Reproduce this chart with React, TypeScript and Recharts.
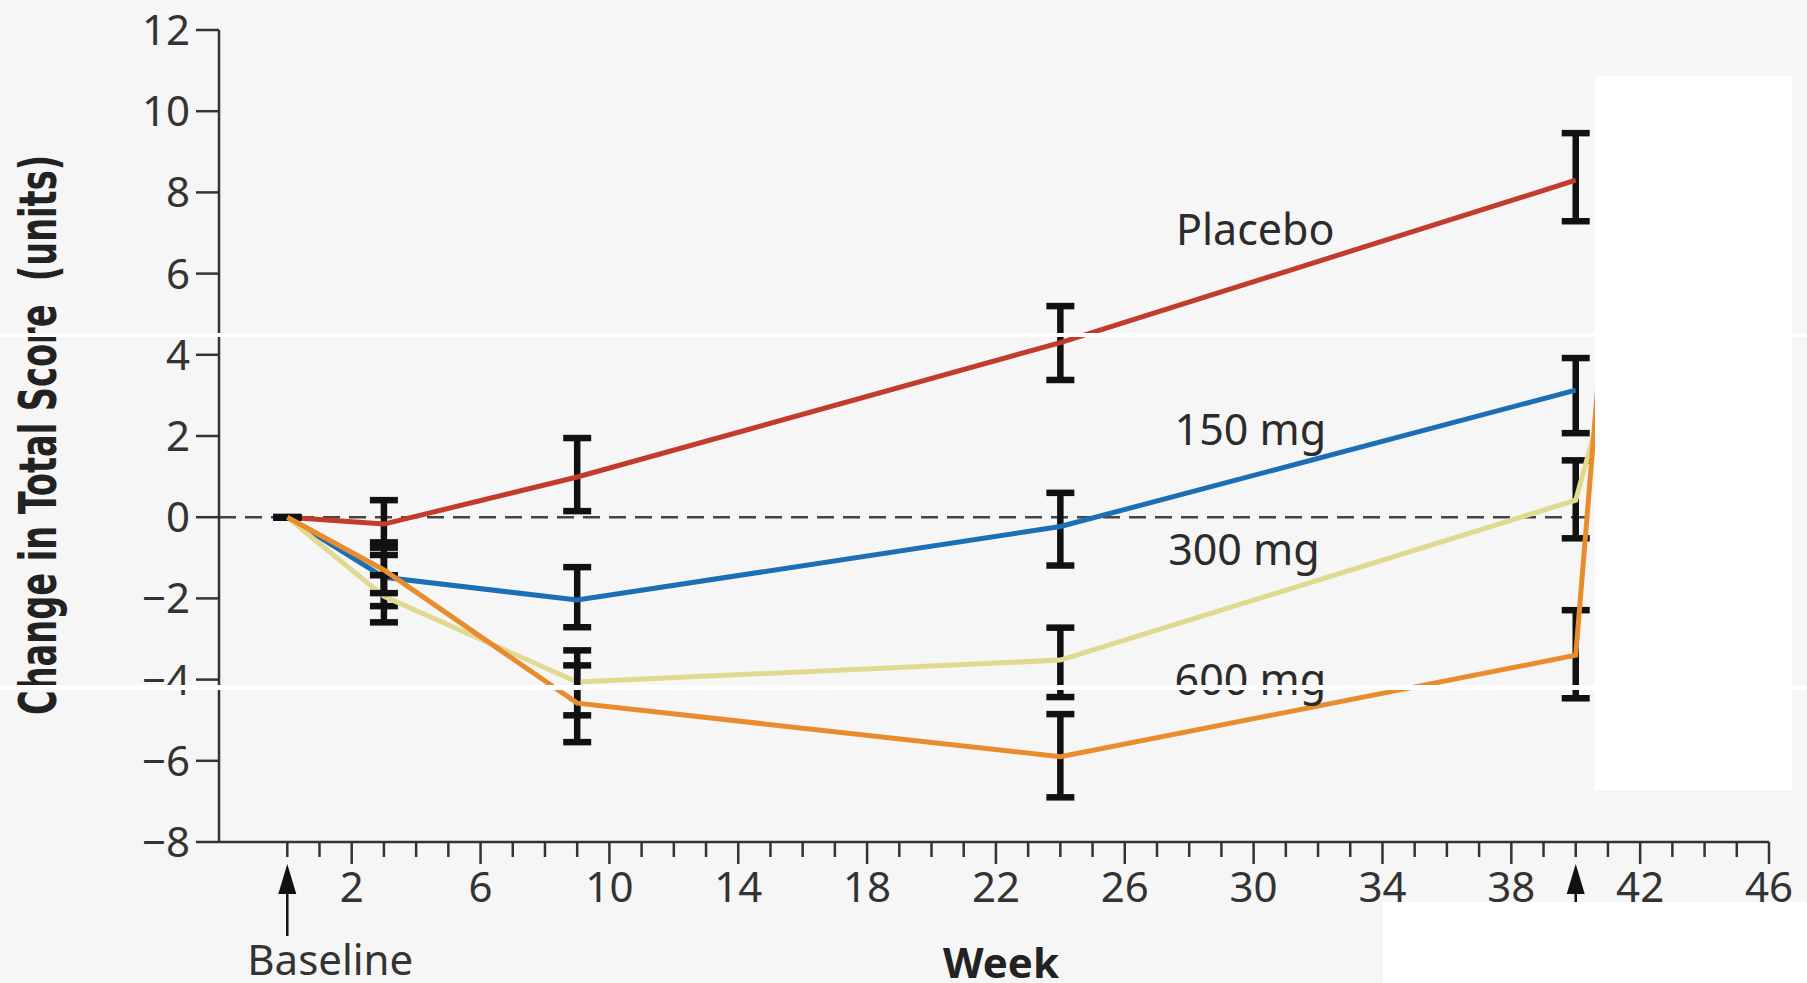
import React from 'react';
import { LineChart, Line, XAxis, YAxis, ErrorBar, ReferenceLine, ReferenceDot } from 'recharts';

// study visits (weeks) and mean change in total score per arm
const weeks = [0, 3, 9, 24, 40];

const placebo = [0, -0.17, 0.99, 4.3, 8.3];
const placeboLow = [0, -0.75, 0.15, 3.38, 7.29];
const placeboHigh = [0, 0.42, 1.95, 5.2, 9.46];

const dose150 = [0, -1.48, -2.04, -0.23, 3.13];
const dose150Low = [0, -2.19, -2.71, -1.19, 2.07];
const dose150High = [0, -0.93, -1.23, 0.6, 3.92];

const dose300 = [0, -1.95, -4.06, -3.52, 0.42];
const dose300Low = [0, -2.59, -4.88, -4.43, -0.52];
const dose300High = [0, -1.43, -3.28, -2.72, 1.4];

const dose600 = [0, -1.3, -4.58, -5.9, -3.4];
const dose600Low = [0, -1.87, -5.54, -6.9, -4.46];
const dose600High = [0, -0.62, -3.65, -4.85, -2.29];

// the 300 mg and 600 mg lines keep rising into the blanked panel on the right
const tailWeek = 41;
const dose300Tail = 3.3;
const dose600Tail = 6.3;

const weekTicks = Array.from({ length: 47 }, (_, i) => i);
const weekLabels = [2, 6, 10, 14, 18, 22, 26, 30, 34, 38, 42, 46];
const arrowWeeks = [0, 40];
const scoreTicks = [-8, -6, -4, -2, 0, 2, 4, 6, 8, 10, 12];

const FONT = "'Noto Sans', 'DejaVu Sans', sans-serif";
const BOLD_FONT = "'Liberation Sans Narrow', 'DejaVu Sans Condensed', 'Noto Sans', sans-serif";
const INK = '#333';

function toPoints(values: number[], low: number[], high: number[], tail?: number) {
  const pts: any[] = weeks.map((w, i) => ({
    week: w,
    value: values[i],
    err: [values[i] - low[i], high[i] - values[i]],
  }));
  if (tail !== undefined) pts.push({ week: tailWeek, value: tail });
  return pts;
}

const series = [
  { name: 'Placebo', color: '#c23b2c', data: toPoints(placebo, placeboLow, placeboHigh), at: [30.05, 7.07] },
  { name: '150 mg', color: '#1c6fb4', data: toPoints(dose150, dose150Low, dose150High), at: [29.9, 2.15] },
  { name: '300 mg', color: '#e0d98f', data: toPoints(dose300, dose300Low, dose300High, dose300Tail), at: [29.7, -0.81] },
  { name: '600 mg', color: '#e88d2e', data: toPoints(dose600, dose600Low, dose600High, dose600Tail), at: [29.9, -4.0] },
];

function WeekTick(props: any) {
  const { x, y, payload } = props;
  const w = payload.value;
  const labeled = weekLabels.includes(w);
  return (
    <g>
      <line x1={x} y1={y} x2={x} y2={y + (labeled ? 22 : 15)} stroke={INK} strokeWidth={2.5} />
      {labeled && (
        <text x={x} y={y + 60} textAnchor="middle" fontSize={42} fontFamily={FONT} fill={INK}>
          {w}
        </text>
      )}
      {arrowWeeks.includes(w) && (
        <g>
          <line x1={x} y1={y + 40} x2={x} y2={y + 94} stroke="#111" strokeWidth={2.5} />
          <path d={`M${x - 9},${y + 52} L${x},${y + 22} L${x + 9},${y + 52} Z`} fill="#111" />
        </g>
      )}
      {w === 0 && (
        <text x={x + 43} y={y + 133} textAnchor="middle" fontSize={42} fontFamily={FONT} fill={INK}>
          Baseline
        </text>
      )}
    </g>
  );
}

const renderScoreTitle = () => (
  <text
    x={56}
    y={435}
    transform="rotate(-90 56 435)"
    textAnchor="middle"
    textLength={560}
    lengthAdjust="spacingAndGlyphs"
    fontSize={51}
    fontWeight={700}
    fontFamily={BOLD_FONT}
    fill="#222"
    style={{ whiteSpace: 'pre' }}
  >
    Change in Total Score  (units)
  </text>
);

const fmtScore = (v: number) => (v < 0 ? `\u2212${-v}` : `${v}`);

const blank = (left: number, top: number, width: number, height: number) => (
  <div style={{ position: 'absolute', left, top, width, height, background: '#fff' }} />
);

export default function App() {
  return (
    <div style={{ position: 'absolute', left: 0, top: 0, width: 1807, height: 983, background: '#f6f6f6', overflow: 'hidden' }}>
      <LineChart width={1807} height={983} margin={{ top: 30, right: 38, bottom: 81, left: 139 }}>
        <XAxis
          type="number"
          dataKey="week"
          domain={[-2.12, 46]}
          ticks={weekTicks}
          interval={0}
          allowDataOverflow
          height={60}
          tickSize={0}
          tickMargin={0}
          tickLine={false}
          axisLine={{ stroke: INK, strokeWidth: 2.5 }}
          tick={<WeekTick />}
          label={{ value: 'Week', position: 'bottom', offset: 46, dx: 7, fontSize: 42, fontWeight: 700, fontFamily: FONT, fill: '#222' }}
        />
        <YAxis
          type="number"
          domain={[-8, 12]}
          ticks={scoreTicks}
          interval={0}
          width={80}
          tickSize={23}
          tickMargin={6}
          axisLine={{ stroke: INK, strokeWidth: 2.5 }}
          tickLine={{ stroke: INK, strokeWidth: 2.5 }}
          tick={{ fill: INK, fontSize: 42, fontFamily: FONT }}
          tickFormatter={fmtScore}
          label={{ content: renderScoreTitle }}
        />
        <ReferenceLine y={0} stroke="#444" strokeWidth={2.5} strokeDasharray="17 9" />
        {series.map((s) => (
          <Line
            key={s.name}
            data={s.data}
            dataKey="value"
            type="linear"
            stroke={s.color}
            strokeWidth={5}
            dot={false}
            isAnimationActive={false}
          >
            <ErrorBar dataKey="err" direction="y" width={14} strokeWidth={6.5} stroke="#111" isAnimationActive={false} />
          </Line>
        ))}
        {series.map((s) => (
          <ReferenceDot
            key={`lbl-${s.name}`}
            x={s.at[0]}
            y={s.at[1]}
            r={0}
            fill="none"
            stroke="none"
            label={{ value: s.name, position: 'center', fontSize: 43, fontFamily: FONT, fill: '#2b2b2b' }}
          />
        ))}
      </LineChart>
      {blank(0, 333, 1807, 4)}
      {blank(0, 685, 1807, 5)}
      {blank(1595, 76, 197, 714)}
      {blank(1383, 902, 424, 81)}
    </div>
  );
}
